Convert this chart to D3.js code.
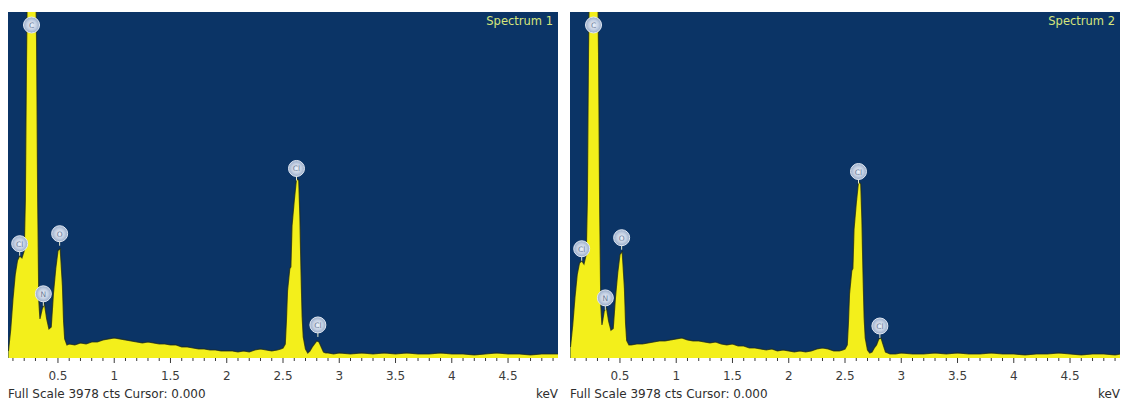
<!DOCTYPE html>
<html>
<head>
<meta charset="utf-8">
<script src="https://cdn.jsdelivr.net/npm/d3@7"></script>
<style>
body { margin: 0; background: #fff; }
svg { display: block; font-family: "DejaVu Sans", Verdana, sans-serif; }
</style>
</head>
<body>
<div class="chartContainer"></div>
<script>
// energy channels (keV), shared by both spectra
var energy = [0.06, 0.08, 0.10, 0.12, 0.14, 0.16, 0.18, 0.20, 0.21, 0.22, 0.23, 0.24, 0.26, 0.28, 0.30, 0.31, 0.32, 0.33, 0.34, 0.36,
    0.38, 0.40, 0.42, 0.44, 0.46, 0.48, 0.50, 0.52, 0.54, 0.55, 0.56, 0.58, 0.60,
    0.65, 0.70, 0.75, 0.80, 0.85, 0.90, 0.95, 1.00, 1.05, 1.10, 1.15, 1.20, 1.25, 1.30, 1.35, 1.40, 1.45, 1.50,
    1.55, 1.60, 1.65, 1.70, 1.75, 1.80, 1.85, 1.90, 1.95, 2.00, 2.05, 2.10, 2.15, 2.20, 2.25, 2.30, 2.35, 2.40, 2.45,
    2.48, 2.50, 2.52, 2.53, 2.54, 2.56, 2.57, 2.58, 2.60, 2.62, 2.64, 2.65, 2.66, 2.67, 2.68, 2.70, 2.72, 2.74, 2.76,
    2.78, 2.80, 2.82, 2.84, 2.86, 2.88, 2.90, 2.95,
    3.0, 3.1, 3.2, 3.3, 3.4, 3.5, 3.6, 3.7, 3.8, 3.9, 4.0, 4.1, 4.2, 4.3, 4.4, 4.5, 4.6, 4.7, 4.8, 4.9, 4.95];

// counts per channel, spectrum 1
var spectrum1 = [80, 330, 680, 960, 1120, 1176, 1150, 1234, 1810, 3400, 4600, 4600, 4600, 4600, 4600, 3655, 1810, 657, 450, 565,
    623, 450, 334, 357, 750, 1026, 1234, 1257, 830, 427, 219, 150, 161,
    150, 173, 161, 184, 184, 208, 219, 231, 219, 208, 196, 184, 173, 184, 173, 161, 161, 150,
    150, 127, 127, 115, 104, 104, 92, 92, 81, 81, 81, 69, 81, 69, 92, 104, 92, 81, 92,
    104, 115, 161, 427, 773, 1026, 1049, 1522, 1810, 2064, 2041, 1637, 1003, 484, 242, 104, 58, 81, 127,
    161, 196, 184, 127, 69, 58, 58, 46,
    58, 46, 58, 46, 58, 46, 58, 46, 46, 58, 46, 46, 35, 46, 58, 46, 46, 35, 46, 46, 46];

// counts per channel, spectrum 2
var spectrum2 = [127, 380, 700, 960, 1090, 1118, 1080, 1190, 1800, 3500, 4600, 4600, 4600, 4600, 4600, 3500, 1700, 600, 380, 540,
    580, 420, 320, 340, 700, 980, 1190, 1222, 800, 400, 200, 150, 150,
    161, 161, 173, 184, 196, 196, 208, 219, 231, 208, 196, 196, 184, 173, 184, 161, 150, 161,
    138, 138, 115, 115, 104, 92, 104, 81, 92, 81, 69, 81, 69, 81, 104, 115, 104, 81, 81,
    92, 104, 150, 400, 740, 1003, 1030, 1480, 1780, 2030, 2000, 1600, 980, 470, 230, 92, 58, 69, 115,
    150, 219, 231, 150, 69, 58, 46, 46,
    58, 46, 46, 58, 46, 58, 46, 46, 58, 46, 46, 35, 46, 46, 58, 46, 35, 46, 46, 35, 46];

var fullScale = 3978;
var titles = ["Spectrum 1", "Spectrum 2"];
var tickValues = [0.5, 1, 1.5, 2, 2.5, 3, 3.5, 4, 4.5];
var tickLabels = ["0.5", "1", "1.5", "2", "2.5", "3", "3.5", "4", "4.5"];

// element markers: name, energy and the height the marker sits at
var peakNames = ["Cl", "C", "N", "O", "Cl", "Cl"];
var peakEnergy = [0.16, 0.265, 0.37, 0.515, 2.62, 2.81];
var peakCounts1 = [1176, 4600, 600, 1291, 2041, 242];
var peakCounts2 = [1118, 4600, 553, 1245, 2006, 230];

var width = 1125,
    height = 403;

var svg = d3.select("div.chartContainer")
    .append("svg")
    .attr("width", width)
    .attr("height", height);

// glow for the marker discs
var defs = svg.append("defs");
var grad = defs.append("radialGradient").attr("id", "markerGlow");
grad.append("stop").attr("offset", "0%").attr("stop-color", "#edf2fa");
grad.append("stop").attr("offset", "60%").attr("stop-color", "#c3cfe2");
grad.append("stop").attr("offset", "100%").attr("stop-color", "#97abc9");

drawPanel(0, spectrum1, peakCounts1, titles[0]);
drawPanel(1, spectrum2, peakCounts2, titles[1]);

function drawPanel(idx, counts, peakCounts, title){
    var plotLeft = 8,
        plotW = 550,
        plotTop = 12,
        plotBottom = 358;

    var g = svg.append("g")
        .attr("transform", "translate(" + (idx * 562) + ",0)");

    var x = d3.scaleLinear()
        .domain([0.056, 4.944])
        .range([plotLeft, plotLeft + plotW]);

    var y = d3.scaleLinear()
        .domain([0, fullScale])
        .range([plotBottom, plotTop]);

    var clipId = "clip" + idx;
    defs.append("clipPath").attr("id", clipId)
        .append("rect")
        .attr("x", plotLeft)
        .attr("y", plotTop)
        .attr("width", plotW)
        .attr("height", plotBottom - plotTop);

    // blue plot background
    g.append("rect")
        .attr("x", plotLeft)
        .attr("y", plotTop)
        .attr("width", plotW)
        .attr("height", plotBottom - plotTop)
        .attr("fill", "#0b3466");

    var data = energy.map(function(e, i){
        return {e: e, c: counts[i]};
    });
    data.push({e: 4.944, c: counts[counts.length - 1]});

    var area = d3.area()
        .x(function(d){ return x(d.e); })
        .y0(plotBottom)
        .y1(function(d){ return y(d.c); });

    var line = d3.line()
        .x(function(d){ return x(d.e); })
        .y(function(d){ return y(d.c); });

    var spec = g.append("g").attr("clip-path", "url(#" + clipId + ")");

    spec.append("path")
        .datum(data)
        .attr("d", area)
        .attr("fill", "#f3ef1b");

    spec.append("path")
        .datum(data)
        .attr("d", line)
        .attr("fill", "none")
        .attr("stroke", "#1d2a1c")
        .attr("stroke-width", 1.2)
        .attr("stroke-opacity", 0.75);

    // element markers
    var markers = g.selectAll(".marker")
        .data(peakNames)
        .enter()
        .append("g")
        .attr("class", "marker");

    markers.append("line")
        .attr("x1", function(d, i){ return x(peakEnergy[i]); })
        .attr("x2", function(d, i){ return x(peakEnergy[i]); })
        .attr("y1", function(d, i){ return Math.max(y(peakCounts[i]) - 12, 25); })
        .attr("y2", function(d, i){ return Math.max(y(peakCounts[i]), 25); })
        .attr("stroke", "#e9eccd")
        .attr("stroke-width", 1);

    markers.append("circle")
        .attr("cx", function(d, i){ return x(peakEnergy[i]); })
        .attr("cy", function(d, i){ return Math.max(y(peakCounts[i]) - 12, 25); })
        .attr("r", 8)
        .attr("fill", "url(#markerGlow)")
        .attr("stroke", "#e3e9f3")
        .attr("stroke-width", 1);

    markers.append("text")
        .attr("x", function(d, i){ return x(peakEnergy[i]); })
        .attr("y", function(d, i){ return Math.max(y(peakCounts[i]) - 12, 25) + 3; })
        .attr("text-anchor", "middle")
        .attr("font-size", "7.5px")
        .attr("fill", "#6d7d99")
        .text(function(d){ return d; });

    // spectrum title
    g.append("text")
        .attr("x", plotLeft + plotW - 5)
        .attr("y", 25)
        .attr("text-anchor", "end")
        .attr("font-size", "11.5px")
        .attr("fill", "#d6e57c")
        .text(title);

    // x axis ticks: minor every 0.1 keV, major every 0.5
    var minor = d3.range(1, 50).map(function(v){ return v / 10; });
    g.selectAll(".tick")
        .data(minor)
        .enter()
        .append("line")
        .attr("x1", function(d){ return x(d); })
        .attr("x2", function(d){ return x(d); })
        .attr("y1", plotBottom)
        .attr("y2", function(d){ return (Math.round(d * 10) % 5 === 0) ? plotBottom + 5 : plotBottom + 3; })
        .attr("stroke", "#3a3a3a")
        .attr("stroke-width", 1);

    g.selectAll(".tickLabel")
        .data(tickValues)
        .enter()
        .append("text")
        .attr("x", function(d){ return x(d); })
        .attr("y", 380)
        .attr("text-anchor", "middle")
        .attr("font-size", "12px")
        .attr("fill", "#3c3c3c")
        .text(function(d, i){ return tickLabels[i]; });

    g.append("text")
        .attr("x", plotLeft)
        .attr("y", 398)
        .attr("font-size", "12px")
        .attr("fill", "#2e2e2e")
        .text("Full Scale " + fullScale + " cts Cursor: 0.000");

    g.append("text")
        .attr("x", plotLeft + plotW)
        .attr("y", 398)
        .attr("text-anchor", "end")
        .attr("font-size", "12px")
        .attr("fill", "#2e2e2e")
        .text("keV");
};
</script>
</body>
</html>
